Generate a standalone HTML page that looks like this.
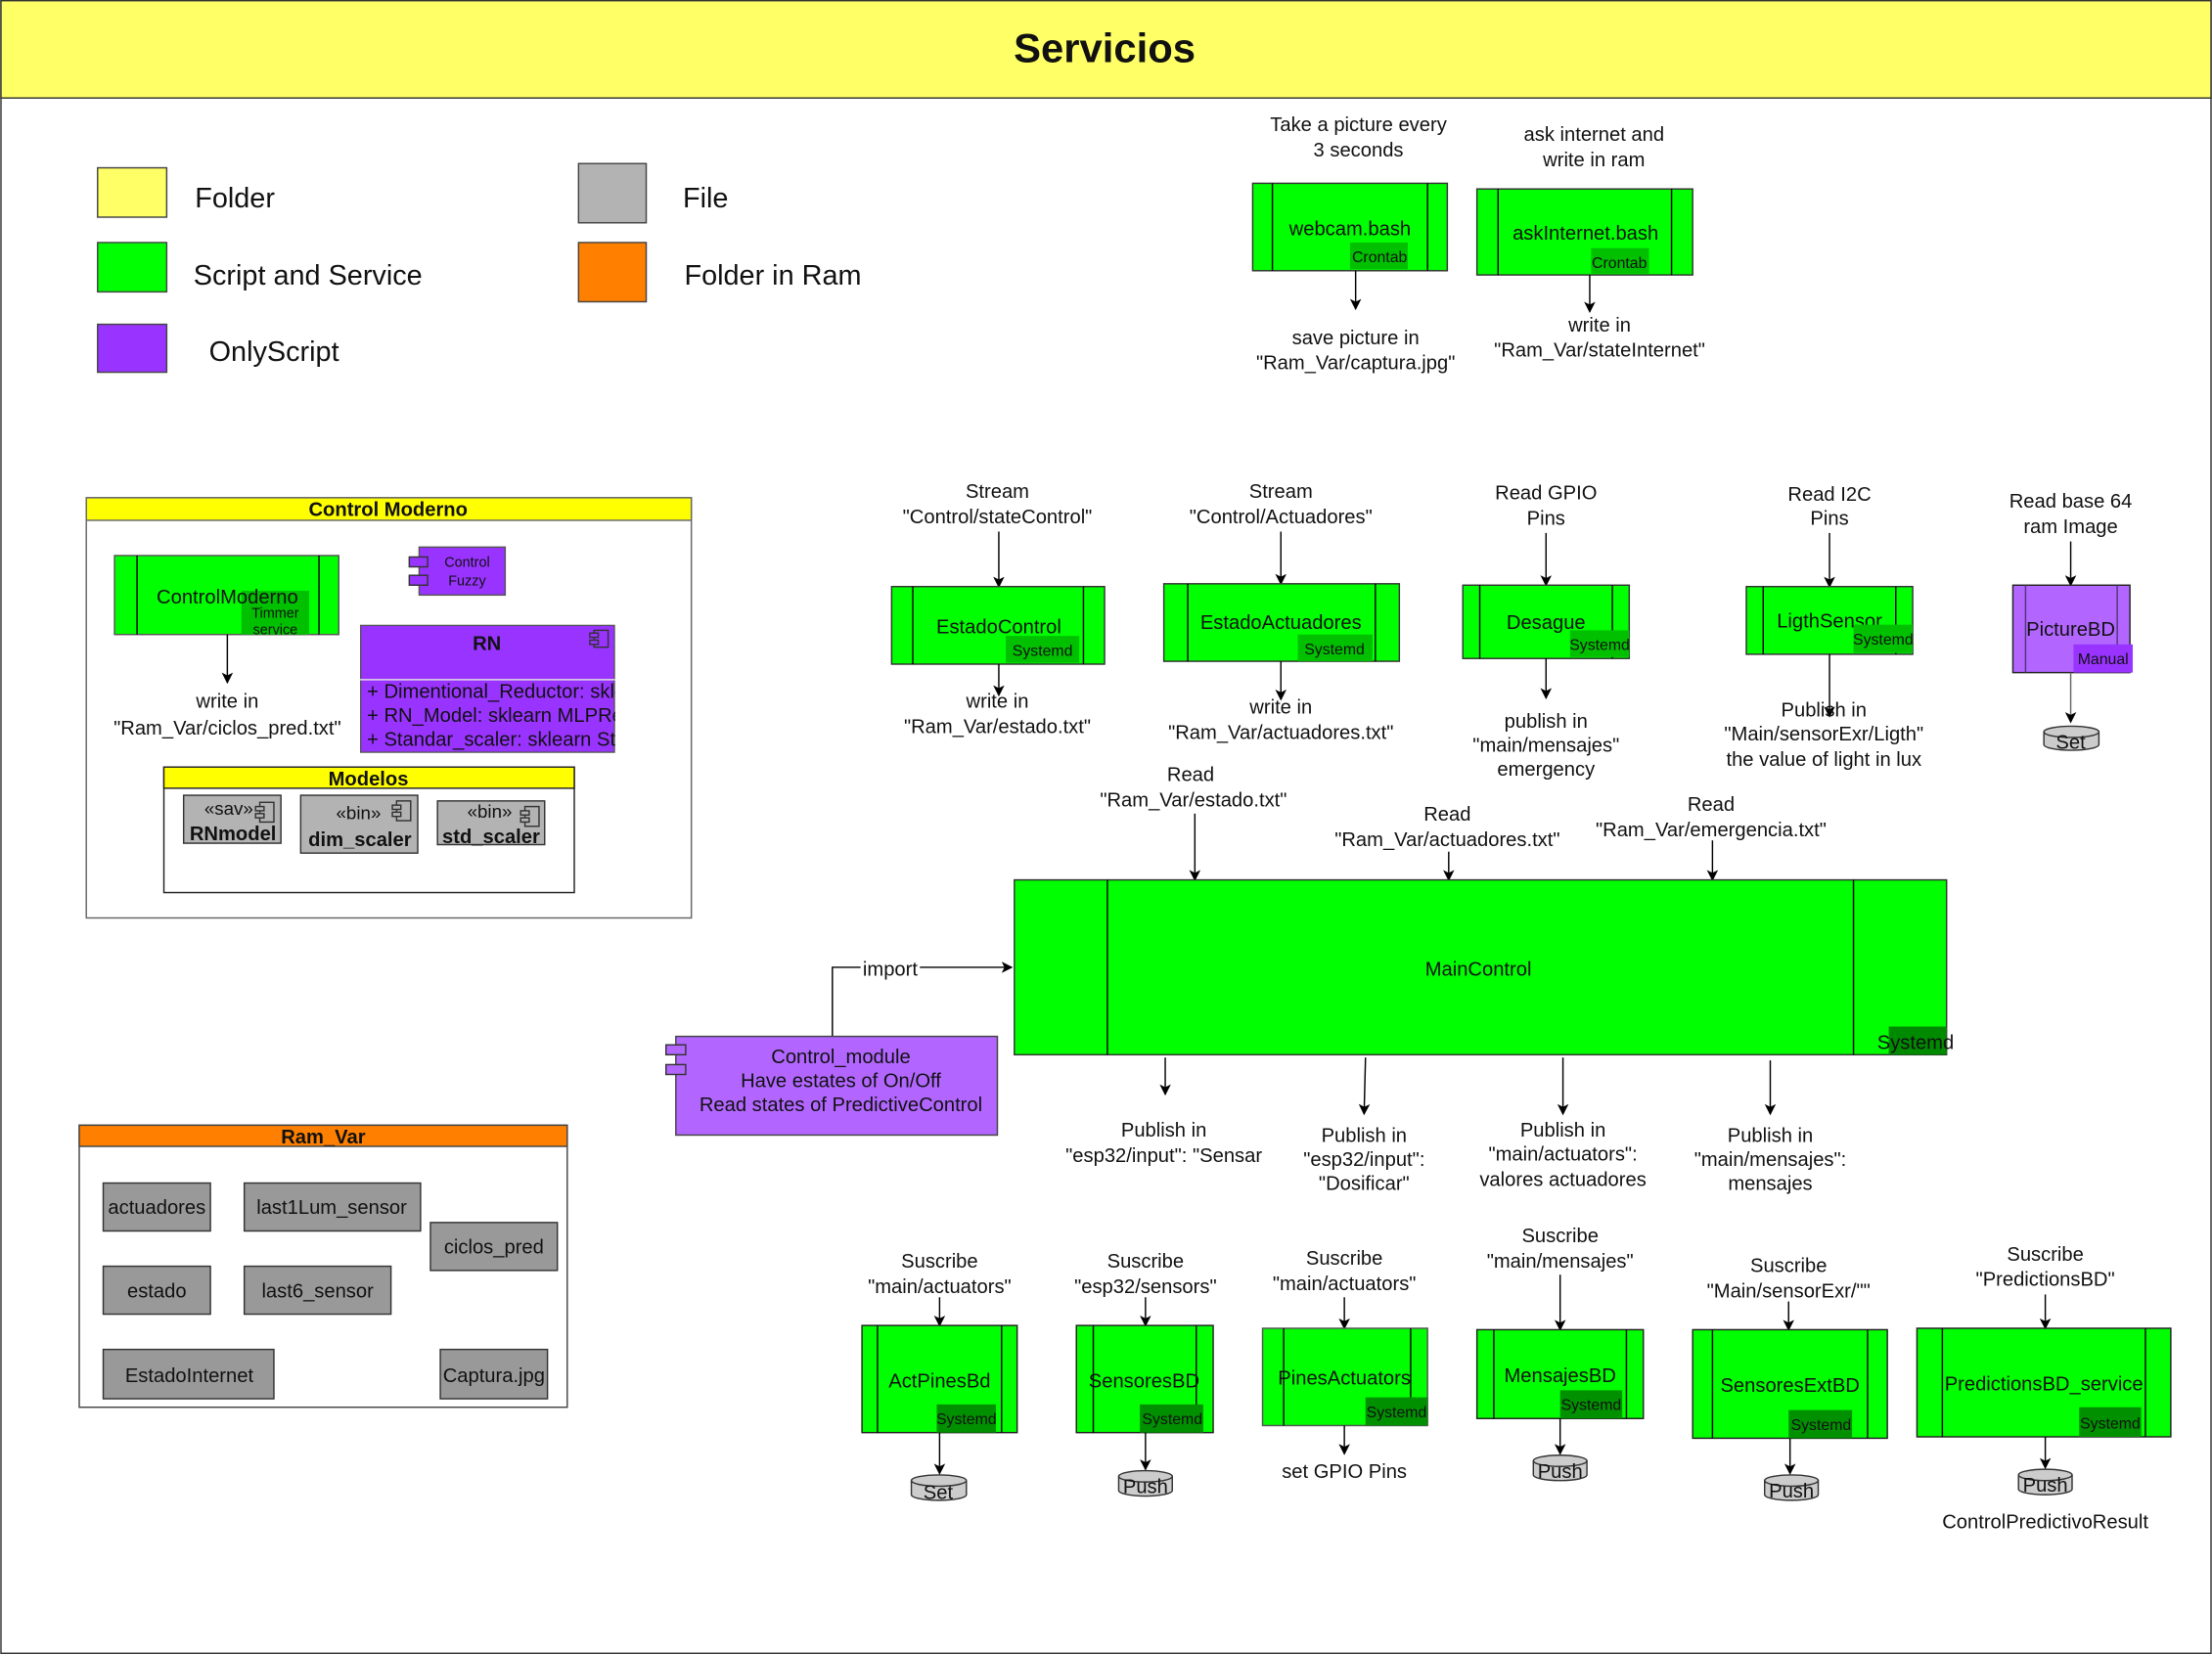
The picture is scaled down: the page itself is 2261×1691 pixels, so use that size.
<!DOCTYPE html>
<html><head><meta charset="utf-8"><style>
html,body{margin:0;padding:0;background:#fff;}
svg{display:block;}
text{font-family:"Liberation Sans",Arial,sans-serif;fill:#111;}
</style></head><body>
<svg width="2261" height="1691" viewBox="0 0 1568 1173" xmlns="http://www.w3.org/2000/svg">
<defs>
<marker id="ar" markerWidth="8" markerHeight="8" refX="7" refY="4" orient="auto" markerUnits="userSpaceOnUse"><path d="M0,0 L8,4 L0,8 L2,4 z" fill="#000"/></marker>
</defs>
<rect x="0.5" y="0.5" width="1567" height="1172" fill="#fff" stroke="#333"/>
<rect x="0.5" y="0.5" width="1567" height="69" fill="#ffff66" stroke="#333"/>
<text x="783" y="44" font-size="29" font-weight="bold" text-anchor="middle">Servicios</text>

<!-- legend -->
<g font-size="20">
<rect x="69" y="119" width="49" height="35" fill="#ffff66" stroke="#444"/><text x="138" y="147">Folder</text>
<rect x="69" y="172" width="49" height="35" fill="#00ff00" stroke="#444"/><text x="137" y="202">Script and Service</text>
<rect x="69" y="230" width="49" height="34" fill="#9933ff" stroke="#444"/><text x="148" y="256">OnlyScript</text>
<rect x="410" y="116" width="48" height="42" fill="#b3b3b3" stroke="#444"/><text x="484" y="147">File</text>
<rect x="410" y="172" width="48" height="42" fill="#ff8000" stroke="#444"/><text x="485" y="202">Folder in Ram</text>
</g>

<g font-size="14" text-anchor="middle">
<text x="963" y="93">Take a picture every</text><text x="963" y="111">3 seconds</text>
<rect x="888" y="130" width="138" height="62" fill="#00ff00" stroke="#333"/>
<line x1="902" y1="130" x2="902" y2="192" stroke="#000"/><line x1="1012" y1="130" x2="1012" y2="192" stroke="#000"/>
<text x="957" y="167">webcam.bash</text>
<rect x="957" y="172" width="41" height="19" fill="#00c000"/><text x="978" y="186" font-size="11">Crontab</text>
<line x1="961" y1="192" x2="961" y2="219" stroke="#000" marker-end="url(#ar)"/>
<text x="961" y="244">save picture in</text><text x="961" y="262">"Ram_Var/captura.jpg"</text>
<text x="1130" y="100">ask internet and</text><text x="1130" y="118">write in ram</text>
<rect x="1047" y="134" width="153" height="61" fill="#00ff00" stroke="#333"/>
<line x1="1062" y1="134" x2="1062" y2="195" stroke="#000"/><line x1="1185" y1="134" x2="1185" y2="195" stroke="#000"/>
<text x="1124" y="170">askInternet.bash</text>
<rect x="1128" y="176" width="41" height="18" fill="#00c000"/><text x="1148" y="190" font-size="11">Crontab</text>
<line x1="1127" y1="195" x2="1127" y2="221" stroke="#000" marker-end="url(#ar)"/>
<text x="1134" y="235">write in</text><text x="1134" y="253">"Ram_Var/stateInternet"</text>
</g>

<!-- Control Moderno -->
<rect x="61" y="353" width="429" height="298" fill="#fff" stroke="#666"/>
<rect x="61" y="353" width="429" height="16" fill="#ffff00" stroke="#666"/>
<text x="275" y="366" font-size="14" font-weight="bold" text-anchor="middle">Control Moderno</text>
<rect x="81" y="394" width="159" height="56" fill="#00ff00" stroke="#555"/>
<line x1="97" y1="394" x2="97" y2="450" stroke="#000"/><line x1="226" y1="394" x2="226" y2="450" stroke="#000"/>
<rect x="171" y="419" width="48" height="31" fill="#00c000"/>
<text x="161" y="428" font-size="14" text-anchor="middle">ControlModerno</text>
<text x="195" y="438" font-size="10" text-anchor="middle">Timmer</text><text x="195" y="450" font-size="10" text-anchor="middle">service</text>
<line x1="161" y1="450" x2="161" y2="484" stroke="#000" marker-end="url(#ar)"/>
<text x="161" y="502" font-size="14" text-anchor="middle">write in</text>
<text x="161" y="521" font-size="14" text-anchor="middle">"Ram_Var/ciclos_pred.txt"</text>
<rect x="297" y="388" width="61" height="34" fill="#9933ff" stroke="#555"/>
<rect x="290" y="395" width="13" height="7" fill="#9933ff" stroke="#333"/><rect x="290" y="408" width="13" height="7" fill="#9933ff" stroke="#333"/>
<text x="331" y="402" font-size="10" text-anchor="middle">Control</text><text x="331" y="415" font-size="10" text-anchor="middle">Fuzzy</text>
<svg x="255" y="443" width="181" height="91" viewBox="0 0 181 91">
<rect x="0.5" y="0.5" width="180" height="90" fill="#9933ff" stroke="#555"/>
<line x1="0" y1="39" x2="181" y2="39" stroke="#ddd"/>
<text x="90" y="18" font-size="14" font-weight="bold" text-anchor="middle">RN</text>
<rect x="166" y="4" width="10" height="12" fill="#9933ff" stroke="#333"/>
<rect x="163" y="6" width="6" height="3" fill="#9933ff" stroke="#333"/><rect x="163" y="11" width="6" height="3" fill="#9933ff" stroke="#333"/>
<text x="5" y="52" font-size="14">+ Dimentional_Reductor: sklearn</text>
<text x="5" y="69" font-size="14">+ RN_Model: sklearn MLPRegressor</text>
<text x="5" y="86" font-size="14">+ Standar_scaler: sklearn StandardScaler</text>
</svg>
<rect x="116" y="544" width="291" height="89" fill="#fff" stroke="#222"/>
<rect x="116" y="544" width="291" height="15" fill="#ffff00" stroke="#222"/>
<text x="261" y="557" font-size="14" font-weight="bold" text-anchor="middle">Modelos</text>
<rect x="130" y="564" width="69" height="34" fill="#b3b3b3" stroke="#333"/>
<text x="162" y="578" font-size="13" text-anchor="middle">«sav»</text><text x="165" y="596" font-size="14" font-weight="bold" text-anchor="middle">RNmodel</text>
<rect x="213" y="564" width="83" height="41" fill="#b3b3b3" stroke="#333"/>
<text x="254" y="581" font-size="13" text-anchor="middle">«bin»</text><text x="255" y="600" font-size="14" font-weight="bold" text-anchor="middle">dim_scaler</text>
<rect x="310" y="568" width="76" height="31" fill="#b3b3b3" stroke="#333"/>
<text x="347" y="580" font-size="13" text-anchor="middle">«bin»</text><text x="348" y="598" font-size="14" font-weight="bold" text-anchor="middle">std_scaler</text>
<g fill="#b3b3b3" stroke="#333">
<rect x="184" y="569" width="10" height="14"/><rect x="181" y="572" width="6" height="3"/><rect x="181" y="577" width="6" height="3"/>
<rect x="281" y="568" width="10" height="14"/><rect x="278" y="571" width="6" height="3"/><rect x="278" y="576" width="6" height="3"/>
<rect x="372" y="572" width="10" height="14"/><rect x="369" y="575" width="6" height="3"/><rect x="369" y="580" width="6" height="3"/>
</g>

<!-- Ram_Var -->
<rect x="56" y="798" width="346" height="200" fill="#fff" stroke="#444"/>
<rect x="56" y="798" width="346" height="15" fill="#ff8000" stroke="#444"/>
<text x="229" y="811" font-size="14" font-weight="bold" text-anchor="middle">Ram_Var</text>
<g fill="#999" stroke="#333">
<rect x="73" y="839" width="76" height="34"/><rect x="173" y="839" width="125" height="34"/>
<rect x="305" y="867" width="90" height="34"/><rect x="73" y="898" width="76" height="34"/>
<rect x="173" y="898" width="104" height="34"/><rect x="73" y="957" width="121" height="35"/>
<rect x="312" y="957" width="76" height="35"/>
</g>
<g font-size="14" text-anchor="middle">
<text x="111" y="861">actuadores</text><text x="235" y="861">last1Lum_sensor</text>
<text x="350" y="889">ciclos_pred</text><text x="111" y="920">estado</text>
<text x="225" y="920">last6_sensor</text><text x="134" y="980">EstadoInternet</text>
<text x="350" y="980">Captura.jpg</text>
</g>

<g font-size="14" text-anchor="middle">
<text x="707" y="353">Stream</text><text x="707" y="371">"Control/stateControl"</text>
<line x1="708" y1="377" x2="708" y2="416" stroke="#000" marker-end="url(#ar)"/>
<rect x="632" y="416" width="151" height="55" fill="#00ff00" stroke="#333"/>
<line x1="647" y1="416" x2="647" y2="471" stroke="#000"/><line x1="768" y1="416" x2="768" y2="471" stroke="#000"/>
<text x="708" y="449">EstadoControl</text>
<rect x="713" y="451" width="52" height="19" fill="#00c000"/><text x="739" y="465" font-size="11">Systemd</text>
<line x1="708" y1="471" x2="708" y2="493" stroke="#000" marker-end="url(#ar)"/>
<text x="707" y="502">write in</text><text x="707" y="520">"Ram_Var/estado.txt"</text>
<text x="908" y="353">Stream</text><text x="908" y="371">"Control/Actuadores"</text>
<line x1="908" y1="377" x2="908" y2="414" stroke="#000" marker-end="url(#ar)"/>
<rect x="825" y="414" width="167" height="55" fill="#00ff00" stroke="#333"/>
<line x1="842" y1="414" x2="842" y2="469" stroke="#000"/><line x1="975" y1="414" x2="975" y2="469" stroke="#000"/>
<text x="908" y="446">EstadoActuadores</text>
<rect x="920" y="450" width="53" height="19" fill="#00c000"/><text x="946" y="464" font-size="11">Systemd</text>
<line x1="908" y1="469" x2="908" y2="496" stroke="#000" marker-end="url(#ar)"/>
<text x="908" y="506">write in</text><text x="908" y="524">"Ram_Var/actuadores.txt"</text>
<text x="1096" y="354">Read GPIO</text><text x="1096" y="372">Pins</text>
<line x1="1096" y1="378" x2="1096" y2="415" stroke="#000" marker-end="url(#ar)"/>
<rect x="1037" y="415" width="118" height="52" fill="#00ff00" stroke="#333"/>
<line x1="1049" y1="415" x2="1049" y2="467" stroke="#000"/><line x1="1143" y1="415" x2="1143" y2="467" stroke="#000"/>
<text x="1096" y="446">Desague</text>
<rect x="1113" y="447" width="42" height="19" fill="#00c000"/><text x="1134" y="461" font-size="11">Systemd</text>
<line x1="1096" y1="467" x2="1096" y2="495" stroke="#000" marker-end="url(#ar)"/>
<text x="1096" y="516">publish in</text><text x="1096" y="533">"main/mensajes"</text><text x="1096" y="550">emergency</text>
<text x="1297" y="355">Read I2C</text><text x="1297" y="372">Pins</text>
<line x1="1297" y1="378" x2="1297" y2="416" stroke="#000" marker-end="url(#ar)"/>
<rect x="1238" y="416" width="118" height="48" fill="#00ff00" stroke="#333"/>
<line x1="1250" y1="416" x2="1250" y2="464" stroke="#000"/><line x1="1344" y1="416" x2="1344" y2="464" stroke="#000"/>
<text x="1297" y="445">LigthSensor</text>
<rect x="1314" y="443" width="42" height="20" fill="#00c000"/><text x="1335" y="457" font-size="11">Systemd</text>
<line x1="1297" y1="464" x2="1297" y2="508" stroke="#000" marker-end="url(#ar)"/>
<text x="1293" y="508">Publish in</text><text x="1293" y="525">"Main/sensorExr/Ligth"</text><text x="1293" y="543">the value of light in lux</text>
<text x="1468" y="360">Read base 64</text><text x="1468" y="378">ram Image</text>
<line x1="1468" y1="384" x2="1468" y2="415" stroke="#000" marker-end="url(#ar)"/>
<rect x="1427" y="415" width="83" height="62" fill="#b266ff" stroke="#222"/>
<line x1="1436" y1="415" x2="1436" y2="477" stroke="#553377"/><line x1="1501" y1="415" x2="1501" y2="477" stroke="#553377"/>
<text x="1468" y="451">PictureBD</text>
<rect x="1470" y="457" width="42" height="20" fill="#9933ff"/><text x="1491" y="471" font-size="11">Manual</text>
<line x1="1468" y1="477" x2="1468" y2="512" stroke="#666" marker-end="url(#ar)"/>
<path d="M1449,519 v9 a19,4 0 0 0 39,0 v-9" fill="#ccc" stroke="#333"/><ellipse cx="1468.5" cy="519" rx="19.5" ry="4" fill="#ccc" stroke="#333"/>
<text x="1468" y="531">Set</text>

<text x="844" y="554">Read</text><text x="846" y="572">"Ram_Var/estado.txt"</text>
<line x1="847" y1="577" x2="847" y2="624" stroke="#000" marker-end="url(#ar)"/>
<text x="1026" y="582">Read</text><text x="1026" y="600">"Ram_Var/actuadores.txt"</text>
<line x1="1027" y1="604" x2="1027" y2="624" stroke="#000" marker-end="url(#ar)"/>
<text x="1213" y="575">Read</text><text x="1213" y="593">"Ram_Var/emergencia.txt"</text>
<line x1="1214" y1="596" x2="1214" y2="624" stroke="#000" marker-end="url(#ar)"/>
<rect x="719" y="624" width="661" height="124" fill="#00ff00" stroke="#333"/>
<line x1="785" y1="624" x2="785" y2="748" stroke="#000"/><line x1="1314" y1="624" x2="1314" y2="748" stroke="#000"/>
<text x="1048" y="692">MainControl</text>
<rect x="1339" y="728" width="41" height="20" fill="#008a00"/>
<text x="1358" y="744">Systemd</text>
<line x1="826" y1="750" x2="826" y2="776" stroke="#000" marker-end="url(#ar)"/>
<text x="825" y="806">Publish in</text><text x="825" y="824">"esp32/input": "Sensar</text>
<line x1="968" y1="750" x2="967" y2="790" stroke="#000" marker-end="url(#ar)"/>
<text x="967" y="810">Publish in</text><text x="967" y="827">"esp32/input":</text><text x="967" y="844">"Dosificar"</text>
<line x1="1108" y1="750" x2="1108" y2="790" stroke="#000" marker-end="url(#ar)"/>
<text x="1108" y="806">Publish in</text><text x="1108" y="823">"main/actuators":</text><text x="1108" y="841">valores actuadores</text>
<line x1="1255" y1="752" x2="1255" y2="790" stroke="#000" marker-end="url(#ar)"/>
<text x="1255" y="810">Publish in</text><text x="1255" y="827">"main/mensajes":</text><text x="1255" y="844">mensajes</text>

<path d="M590,735 V686 H717" fill="none" stroke="#000" marker-end="url(#ar)"/>
<rect x="610" y="679" width="42" height="15" fill="#fff"/>
<text x="631" y="692">import</text>
<rect x="479" y="735" width="228" height="70" fill="#b266ff" stroke="#444"/>
<rect x="472" y="741" width="14" height="7" fill="#b266ff" stroke="#333"/><rect x="472" y="755" width="14" height="7" fill="#b266ff" stroke="#333"/>
<text x="596" y="754">Control_module</text><text x="596" y="771">Have estates of On/Off</text><text x="596" y="788">Read states of PredictiveControl</text>

<text x="666" y="899">Suscribe</text><text x="666" y="917">"main/actuators"</text>
<line x1="666" y1="920" x2="666" y2="940" stroke="#000" marker-end="url(#ar)"/>
<rect x="611" y="940" width="110" height="76" fill="#00ff00" stroke="#222"/>
<line x1="622" y1="940" x2="622" y2="1016" stroke="#000"/><line x1="710" y1="940" x2="710" y2="1016" stroke="#000"/>
<text x="666" y="984">ActPinesBd</text>
<rect x="664" y="996" width="42" height="20" fill="#009000"/><text x="685" y="1010" font-size="11">Systemd</text>
<line x1="666" y1="1016" x2="666" y2="1045" stroke="#000" marker-end="url(#ar)"/>
<path d="M646,1050 v10 a19.5,4 0 0 0 39,0 v-10" fill="#ccc" stroke="#333"/><ellipse cx="665.5" cy="1050" rx="19.5" ry="4" fill="#ccc" stroke="#333"/>
<text x="665" y="1063">Set</text>

<text x="812" y="899">Suscribe</text><text x="812" y="917">"esp32/sensors"</text>
<line x1="812" y1="920" x2="812" y2="940" stroke="#000" marker-end="url(#ar)"/>
<rect x="763" y="940" width="97" height="76" fill="#00ff00" stroke="#222"/>
<line x1="775" y1="940" x2="775" y2="1016" stroke="#000"/><line x1="848" y1="940" x2="848" y2="1016" stroke="#000"/>
<text x="811" y="984">SensoresBD</text>
<rect x="808" y="996" width="45" height="20" fill="#009000"/><text x="831" y="1010" font-size="11">Systemd</text>
<line x1="812" y1="1016" x2="812" y2="1042" stroke="#000" marker-end="url(#ar)"/>
<path d="M793,1047 v10 a19,4 0 0 0 38,0 v-10" fill="#ccc" stroke="#333"/><ellipse cx="812" cy="1047" rx="19" ry="4" fill="#ccc" stroke="#333"/>
<text x="812" y="1059">Push</text>

<text x="953" y="897">Suscribe</text><text x="953" y="915">"main/actuators"</text>
<line x1="953" y1="920" x2="953" y2="942" stroke="#000" marker-end="url(#ar)"/>
<rect x="895" y="942" width="117" height="69" fill="#00ff00" stroke="#555"/>
<line x1="910" y1="942" x2="910" y2="1011" stroke="#000"/><line x1="1000" y1="942" x2="1000" y2="1011" stroke="#000"/>
<text x="953" y="982">PinesActuators</text>
<rect x="968" y="991" width="44" height="20" fill="#009000"/><text x="990" y="1005" font-size="11">Systemd</text>
<line x1="953" y1="1011" x2="953" y2="1031" stroke="#000" marker-end="url(#ar)"/>
<text x="953" y="1048">set GPIO Pins</text>

<text x="1106" y="881">Suscribe</text><text x="1106" y="899">"main/mensajes"</text>
<line x1="1106" y1="904" x2="1106" y2="943" stroke="#000" marker-end="url(#ar)"/>
<rect x="1047" y="943" width="118" height="63" fill="#00ff00" stroke="#222"/>
<line x1="1059" y1="943" x2="1059" y2="1006" stroke="#000"/><line x1="1153" y1="943" x2="1153" y2="1006" stroke="#000"/>
<text x="1106" y="980">MensajesBD</text>
<rect x="1106" y="986" width="44" height="20" fill="#009000"/><text x="1128" y="1000" font-size="11">Systemd</text>
<line x1="1106" y1="1006" x2="1106" y2="1031" stroke="#000" marker-end="url(#ar)"/>
<path d="M1087,1036 v10 a19,4 0 0 0 38,0 v-10" fill="#ccc" stroke="#333"/><ellipse cx="1106" cy="1036" rx="19" ry="4" fill="#ccc" stroke="#333"/>
<text x="1106" y="1048">Push</text>

<text x="1268" y="902">Suscribe</text><text x="1268" y="920">"Main/sensorExr/""</text>
<line x1="1268" y1="923" x2="1268" y2="943" stroke="#000" marker-end="url(#ar)"/>
<rect x="1200" y="943" width="138" height="77" fill="#00ff00" stroke="#222"/>
<line x1="1214" y1="943" x2="1214" y2="1020" stroke="#000"/><line x1="1324" y1="943" x2="1324" y2="1020" stroke="#000"/>
<text x="1269" y="987">SensoresExtBD</text>
<rect x="1268" y="1000" width="45" height="20" fill="#009000"/><text x="1291" y="1014" font-size="11">Systemd</text>
<line x1="1269" y1="1020" x2="1269" y2="1045" stroke="#000" marker-end="url(#ar)"/>
<path d="M1251,1050 v10 a19,4 0 0 0 38,0 v-10" fill="#ccc" stroke="#333"/><ellipse cx="1270" cy="1050" rx="19" ry="4" fill="#ccc" stroke="#333"/>
<text x="1270" y="1062">Push</text>

<text x="1450" y="894">Suscribe</text><text x="1450" y="912">"PredictionsBD"</text>
<line x1="1450" y1="918" x2="1450" y2="942" stroke="#000" marker-end="url(#ar)"/>
<rect x="1359" y="942" width="180" height="77" fill="#00ff00" stroke="#222"/>
<line x1="1377" y1="942" x2="1377" y2="1019" stroke="#000"/><line x1="1521" y1="942" x2="1521" y2="1019" stroke="#000"/>
<text x="1449" y="986">PredictionsBD_service</text>
<rect x="1474" y="998" width="44" height="21" fill="#009000"/><text x="1496" y="1013" font-size="11">Systemd</text>
<line x1="1450" y1="1019" x2="1450" y2="1041" stroke="#000" marker-end="url(#ar)"/>
<path d="M1431,1046 v10 a19,4 0 0 0 38,0 v-10" fill="#ccc" stroke="#333"/><ellipse cx="1450" cy="1046" rx="19" ry="4" fill="#ccc" stroke="#333"/>
<text x="1450" y="1058">Push</text>
<text x="1450" y="1084">ControlPredictivoResult</text>
</g>
</svg>
</body></html>
